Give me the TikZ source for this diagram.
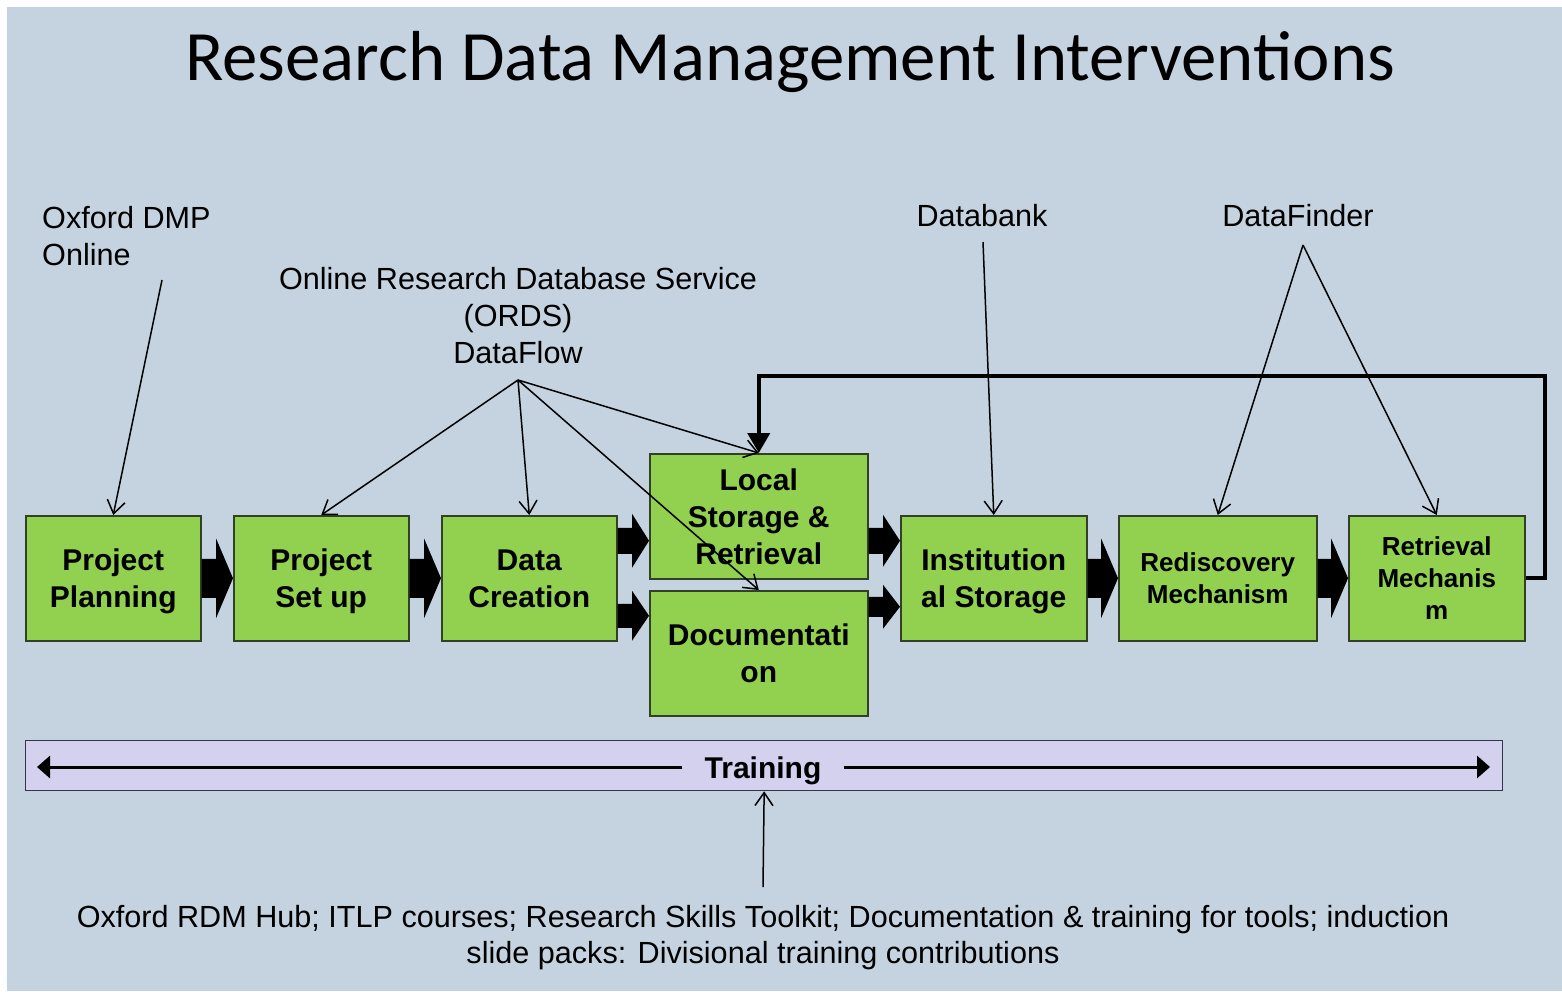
\documentclass[tikz,border=0pt]{standalone}
\usepackage{fontspec}
\setmainfont{Liberation Sans}
\newfontfamily\titlefont{Carlito}
\usetikzlibrary{arrows.meta,calc}
\definecolor{bgblue}{HTML}{C5D3E0}
\definecolor{boxgreen}{HTML}{92D050}
\definecolor{boxline}{HTML}{334028}
\definecolor{lav}{HTML}{D3D1EE}
\definecolor{lavline}{HTML}{34344A}
\newcommand\bkarrow[5]{%
  \fill[black] let \p1=(#1), \p2=(#2) in
    (\x1,\y1+#3) -- (\x2-#5,\y1+#3) -- (\x2-#5,\y1+#4) -- (\x2,\y1)
    -- (\x2-#5,\y1-#4) -- (\x2-#5,\y1-#3) -- (\x1,\y1-#3) -- cycle;}
\tikzset{
  stage/.style={draw=boxline, line width=1.5pt, fill=boxgreen, minimum height=125pt,
    anchor=north west, align=center, inner sep=0pt, text depth=0pt,
    font=\bfseries\fontsize{30}{37}\selectfont},
  smallstage/.style={stage, font=\bfseries\fontsize{26}{32}\selectfont},
  lbl/.style={align=center, inner sep=0pt, font=\fontsize{30.6}{37}\selectfont},
  thin/.style={line width=1.5pt, -{Straight Barb[length=13pt,width=18pt]}},
  fback/.style={line width=4pt, -{Triangle[length=20pt,width=22pt]}},
  trainarr/.style={line width=3pt, -{Triangle[length=13pt,width=22pt]}}
}
\begin{document}
\begin{tikzpicture}[x=1pt,y=-1pt]
\useasboundingbox (0,0) rectangle (1562,991);
\fill[white] (0,0) rectangle (1562,991);
\fill[bgblue] (7,7) rectangle (1562,991);

% title
\node[font=\titlefont\fontsize{70.8}{84}\selectfont, inner sep=0pt] (title) at (790,62)
  {Research Data Management Interventions};

% stages
\node[stage, minimum width=175pt] (pp) at (25,515) {Project\\Planning};
\node[stage, minimum width=175pt] (ps) at (233,515) {Project\\Set up};
\node[stage, minimum width=175pt] (dc) at (441,515) {Data\\Creation};
\node[stage, minimum width=218pt] (ls) at (649,453) {Local\\Storage \&\\Retrieval};
\node[stage, minimum width=218pt] (doc) at (649,590) {Documentati\\on};
\node[stage, minimum width=186pt] (it) at (900,515) {Institution\\al Storage};
\node[smallstage, minimum width=198pt] (rd) at (1118,515) {Rediscovery\\Mechanism};
\node[smallstage, minimum width=176pt] (rm) at (1348,515) {Retrieval\\Mechanis\\m};

% block arrows
\bkarrow{pp.east}{ps.west}{19.5pt}{40pt}{17pt}
\bkarrow{ps.east}{dc.west}{19.5pt}{40pt}{17pt}
\bkarrow{$(dc.east)+(0,-37.5)$}{ls.west}{13pt}{27pt}{17pt}
\bkarrow{$(dc.east)+(0,37.5)$}{doc.west}{12pt}{25pt}{17pt}
\bkarrow{$(ls.east)+(0,24.5)$}{it.west}{13pt}{26pt}{17pt}
\bkarrow{$(doc.east)+(0,-46.5)$}{it.west}{10pt}{22pt}{17pt}
\bkarrow{it.east}{rd.west}{19.5pt}{40pt}{17pt}
\bkarrow{rd.east}{rm.west}{19.5pt}{40pt}{17pt}

% labels
\node[lbl, align=left, anchor=north west] (odmp) at (42,206) {Oxford DMP\\Online};
\node[lbl] (ords) at (518,316) {Online Research Database Service\\(ORDS)\\DataFlow};
\node[lbl] (dbank) at (982,216) {Databank};
\node[lbl] (dfind) at (1298,216) {DataFinder};
\coordinate (odmpS) at (162,280);
\coordinate (ordsS) at (518,380);
\coordinate (dbankS) at (983,242);
\coordinate (dfindS) at (1303,245);

% feedback loop
\coordinate (fbc) at (1545,376);
\draw[fback] (rm.east) -| (fbc) -| (ls.north);

% thin arrows
\draw[thin] (odmpS) -- (pp.north);
\draw[thin] (ordsS) -- (ps.north);
\draw[thin] (ordsS) -- (dc.north);
\draw[thin] (ordsS) -- (ls.north);
\draw[thin] (ordsS) -- (doc.north);
\draw[thin] (dbankS) -- (it.north);
\draw[thin] (dfindS) -- (rd.north);
\draw[thin] (dfindS) -- (rm.north);

% training bar
\node[draw=lavline, line width=1.3pt, fill=lav, minimum width=1477pt, minimum height=50pt,
  anchor=north west, inner sep=0pt] (tbar) at (25,740) {};
\node[fill=lav, inner xsep=22pt, inner ysep=2pt, font=\bfseries\fontsize{30}{36}\selectfont]
  (train) at (763,771) {Training};
\coordinate (tl) at (37,767);
\coordinate (tr) at (1490,767);
\draw[trainarr] (train.west |- tl) -- (tl);
\draw[trainarr] (train.east |- tr) -- (tr);

% bottom text
\node[lbl, font=\fontsize{30.6}{36}\selectfont] (bt) at (763,938)
  {Oxford RDM Hub; ITLP courses; Research Skills Toolkit; Documentation \& training for tools; induction\\
   slide packs: Divisional training contributions};
\coordinate (btS) at (763,887);
\draw[thin] (btS) -- (tbar.south);
\end{tikzpicture}
\end{document}
